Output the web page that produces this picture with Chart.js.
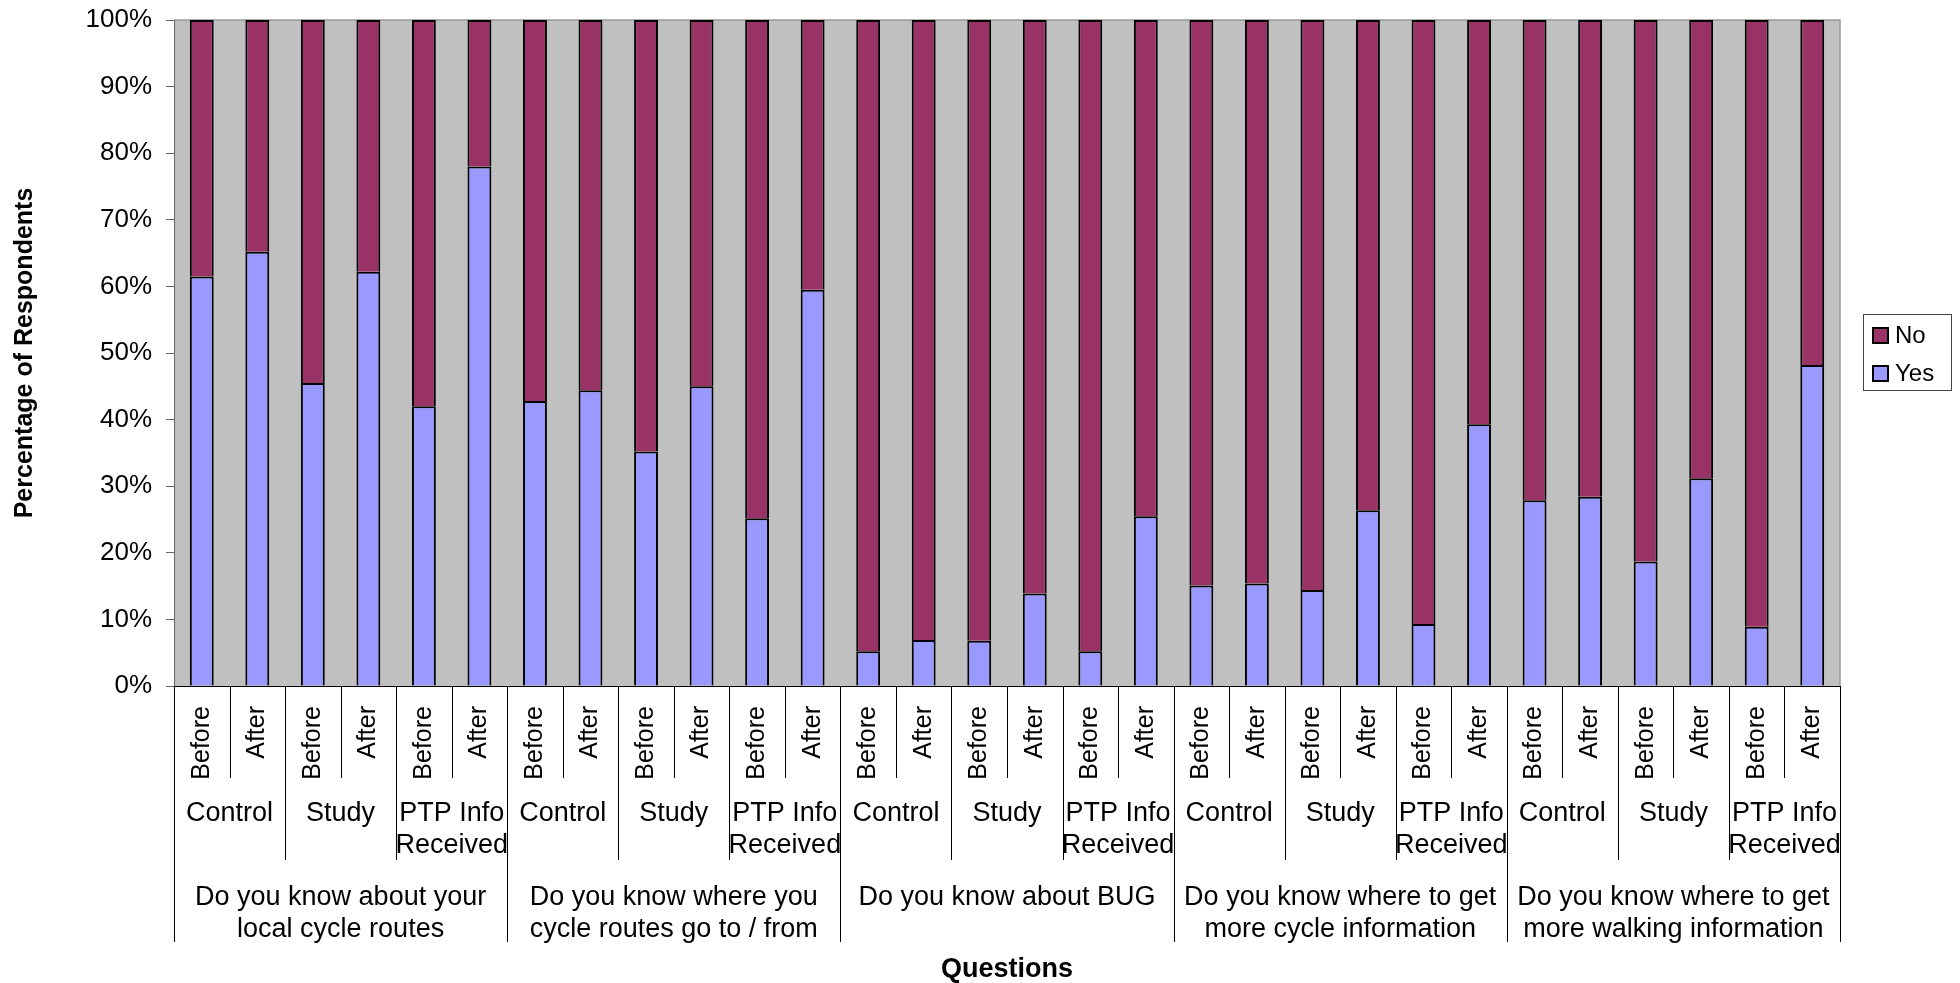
<!DOCTYPE html>
<html>
<head>
<meta charset="utf-8">
<script src="https://cdn.jsdelivr.net/npm/chart.js@4.4.1/dist/chart.umd.min.js"></script>
<style>
  html, body { margin: 0; padding: 0; background: #fff; }
  #wrap { width: 1960px; height: 983px; }
</style>
</head>
<body>
<div id="wrap"><canvas id="awarenessChart" width="1960" height="983"></canvas></div>
<script>
// Survey questions, respondent groups and survey waves (outer -> inner axis level)
const questions = [
  ['Do you know about your', 'local cycle routes'],
  ['Do you know where you', 'cycle routes go to / from'],
  ['Do you know about BUG'],
  ['Do you know where to get', 'more cycle information'],
  ['Do you know where to get', 'more walking information']
];
const groups = [['Control'], ['Study'], ['PTP Info', 'Received']];
const periods = ['Before', 'After'];

// % answering yes / no, one value per question-group-period
const yesValues = [61.5, 65.2, 45.5, 62.2, 42.0, 78.0,
                   42.8, 44.4, 35.2, 45.0, 25.2, 59.5,
                   5.2, 6.9, 6.8, 13.9, 5.2, 25.5,
                   15.1, 15.4, 14.4, 26.4, 9.3, 39.3,
                   27.9, 28.4, 18.7, 31.2, 8.9, 48.2];
const noValues = [38.5, 34.8, 54.5, 37.8, 58.0, 22.0,
                  57.2, 55.6, 64.8, 55.0, 74.8, 40.5,
                  94.8, 93.1, 93.2, 86.1, 94.8, 74.5,
                  84.9, 84.6, 85.6, 73.6, 90.7, 60.7,
                  72.1, 71.6, 81.3, 68.8, 91.1, 51.8];

const yTickLabels = ['0%', '10%', '20%', '30%', '40%', '50%', '60%', '70%', '80%', '90%', '100%'];

const labels = [];
questions.forEach(q => groups.forEach(g => periods.forEach(p => {
  labels.push(q.join(' ') + ' - ' + g.join(' ') + ' - ' + p);
})));

const FONT = '"Liberation Sans", Arial, Helvetica, sans-serif';
const YES_COLOR = '#9999ff';
const NO_COLOR = '#993366';

// grey plot area with a thin frame
const plotBackground = {
  id: 'plotBackground',
  beforeDraw(chart) {
    const { ctx, chartArea: a } = chart;
    ctx.save();
    ctx.fillStyle = '#fff';
    ctx.fillRect(0, 0, chart.width, chart.height);
    ctx.fillStyle = '#c0c0c0';
    ctx.fillRect(a.left, a.top, a.right - a.left, a.bottom - a.top);
    ctx.strokeStyle = '#999';
    ctx.lineWidth = 1.5;
    ctx.beginPath();
    ctx.moveTo(a.left, a.top);
    ctx.lineTo(a.right, a.top);
    ctx.lineTo(a.right, a.bottom);
    ctx.stroke();
    ctx.restore();
  }
};

// three-level category axis: period / group / question
const categoryAxis = {
  id: 'categoryAxis',
  afterDraw(chart) {
    const { ctx, chartArea: a } = chart;
    const xs = chart.scales.x;
    const n = labels.length;
    const w = (a.right - a.left) / n;
    const y0 = a.bottom;

    ctx.save();
    ctx.strokeStyle = '#000';
    ctx.lineWidth = 1;
    for (let k = 0; k <= n; k++) {
      const px = Math.round(a.left + k * w) + 0.5;
      const len = k % 6 === 0 ? 256 : (k % 2 === 0 ? 174 : 92);
      ctx.beginPath();
      ctx.moveTo(px, y0);
      ctx.lineTo(px, y0 + len);
      ctx.stroke();
    }

    ctx.fillStyle = '#000';
    ctx.font = '25px ' + FONT;
    ctx.textAlign = 'right';
    ctx.textBaseline = 'middle';
    for (let i = 0; i < n; i++) {
      ctx.save();
      ctx.translate(xs.getPixelForValue(i), y0 + 20);
      ctx.rotate(-Math.PI / 2);
      ctx.fillText(periods[i % 2], 0, 0);
      ctx.restore();
    }

    ctx.font = '27px ' + FONT;
    ctx.textAlign = 'center';
    for (let g = 0; g < n / 2; g++) {
      const cx = (xs.getPixelForValue(2 * g) + xs.getPixelForValue(2 * g + 1)) / 2;
      groups[g % 3].forEach((line, li) => ctx.fillText(line, cx, y0 + 128 + li * 32));
    }
    questions.forEach((q, qi) => {
      const cx = (xs.getPixelForValue(6 * qi) + xs.getPixelForValue(6 * qi + 5)) / 2;
      q.forEach((line, li) => ctx.fillText(line, cx, y0 + 212 + li * 32));
    });
    ctx.restore();
  }
};

// boxed legend to the right of the plot
const sideLegend = {
  id: 'sideLegend',
  afterDraw(chart) {
    const { ctx } = chart;
    const entries = [[NO_COLOR, 'No'], [YES_COLOR, 'Yes']];
    ctx.save();
    ctx.fillStyle = '#fff';
    ctx.fillRect(1863, 314, 89, 77);
    ctx.strokeStyle = '#444';
    ctx.lineWidth = 1;
    ctx.strokeRect(1863.5, 314.5, 88, 76);
    ctx.font = '24px ' + FONT;
    ctx.textAlign = 'left';
    ctx.textBaseline = 'middle';
    entries.forEach(([color, text], i) => {
      const y = 327 + i * 38;
      ctx.fillStyle = color;
      ctx.fillRect(1872, y, 17, 17);
      ctx.strokeStyle = '#000';
      ctx.lineWidth = 2;
      ctx.strokeRect(1873, y + 1, 15, 15);
      ctx.fillStyle = '#000';
      ctx.fillText(text, 1895, y + 9);
    });
    ctx.restore();
  }
};

new Chart(document.getElementById('awarenessChart'), {
  type: 'bar',
  data: {
    labels: labels,
    datasets: [
      { label: 'Yes', data: yesValues, backgroundColor: YES_COLOR, borderColor: '#000', borderWidth: 2 },
      { label: 'No', data: noValues, backgroundColor: NO_COLOR, borderColor: '#000', borderWidth: 2 }
    ]
  },
  options: {
    responsive: false,
    animation: false,
    datasets: { bar: { barPercentage: 0.43, categoryPercentage: 1 } },
    layout: { padding: { top: 20, right: 120, bottom: 0, left: 0 } },
    plugins: {
      legend: { display: false },
      tooltip: { enabled: true }
    },
    scales: {
      x: {
        stacked: true,
        ticks: { display: false },
        grid: { display: false },
        border: { display: true, color: '#000', width: 1 },
        title: {
          display: true,
          text: 'Questions',
          color: '#000',
          font: { family: FONT, size: 27, weight: 'bold', lineHeight: 1 },
          padding: { top: 0, bottom: 0 }
        },
        afterFit(scale) { scale.height = 297; }
      },
      y: {
        stacked: true,
        min: 0,
        max: 100,
        ticks: {
          stepSize: 10,
          padding: 14,
          color: '#000',
          font: { family: FONT, size: 26 },
          callback: (v, i) => yTickLabels[i]
        },
        grid: { drawOnChartArea: false, drawTicks: true, tickLength: 8, color: '#666' },
        border: { color: '#666', width: 1 },
        title: {
          display: true,
          text: 'Percentage of Respondents',
          color: '#000',
          font: { family: FONT, size: 25, weight: 'bold' },
          padding: { top: 10, bottom: 0 }
        },
        afterFit(scale) {
          scale.width = 174;
          scale.paddingTop = 0;
          scale.paddingBottom = 0;
        }
      }
    }
  },
  plugins: [plotBackground, categoryAxis, sideLegend]
});
</script>
</body>
</html>
